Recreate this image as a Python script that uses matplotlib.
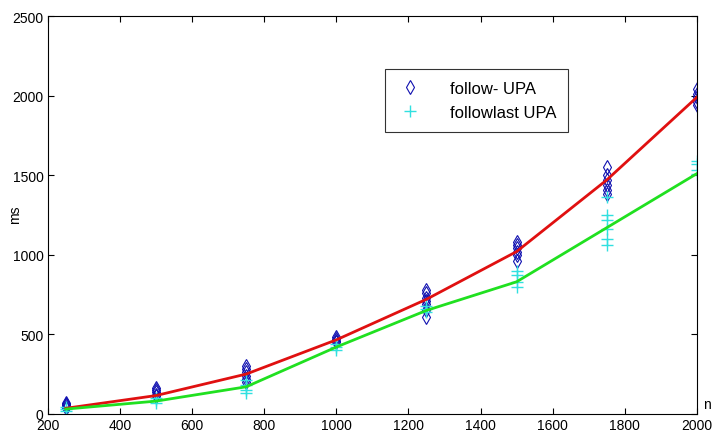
import numpy as np
import matplotlib
matplotlib.use("Agg")
import matplotlib.pyplot as plt

plt.rcParams["font.family"] = ["Liberation Sans", "DejaVu Sans"]

# measurement sizes
N_VALUES = [250, 500, 750, 1000, 1250, 1500, 1750, 2000]

# individual runs (ms) per size
follow_runs = [
    [35, 45, 55, 65, 70],
    [110, 120, 135, 150, 160],
    [200, 220, 240, 260, 280, 300],
    [450, 460, 470, 480],
    [610, 650, 690, 710, 730, 760, 780],
    [960, 1000, 1020, 1040, 1060, 1080],
    [1380, 1410, 1440, 1470, 1500, 1550],
    [1940, 1960, 1990, 2010, 2040],
]
followlast_runs = [
    [20, 30, 40],
    [70, 85, 100],
    [130, 150, 180, 210],
    [400, 420, 440],
    [640, 660, 680],
    [800, 830, 870, 900],
    [1060, 1100, 1160, 1220, 1250, 1360],
    [1510, 1530, 1570, 1590],
]

# average curves
follow_line = [35, 115, 250, 465, 720, 1020, 1470, 1990]
followlast_line = [30, 80, 170, 420, 650, 830, 1170, 1510]

X_TICKS = [200, 400, 600, 800, 1000, 1200, 1400, 1600, 1800, 2000]
Y_TICKS = [0, 500, 1000, 1500, 2000, 2500]

fig = plt.figure(figsize=(7.14, 4.39), dpi=100, facecolor="white")
ax = fig.add_axes([0.067, 0.055, 0.909, 0.906])

fx = np.concatenate([[n] * len(r) for n, r in zip(N_VALUES, follow_runs)])
fy = np.concatenate(follow_runs)
lx = np.concatenate([[n] * len(r) for n, r in zip(N_VALUES, followlast_runs)])
ly = np.concatenate(followlast_runs)

ax.plot(fx, fy, linestyle="none", marker="d", markersize=7,
        markerfacecolor="none", markeredgecolor="#1010b0", markeredgewidth=0.8,
        label="follow- UPA")
ax.plot(lx, ly, linestyle="none", marker="+", markersize=8,
        color="#30e0e0", markeredgewidth=1.0, label="followlast UPA")

ax.plot(N_VALUES, follow_line, color="#e01010", linewidth=2)
ax.plot(N_VALUES, followlast_line, color="#20e020", linewidth=2)

ax.set_xlim(200, 2000)
ax.set_ylim(0, 2500)
ax.set_xticks(X_TICKS)
ax.set_yticks(Y_TICKS)
ax.tick_params(direction="in", top=True, right=True, labelsize=10,
               length=4, width=0.8, pad=3)
for s in ax.spines.values():
    s.set_linewidth(0.8)

fig.text(0.021, 0.51, "ms", rotation=90, ha="center", va="center", fontsize=10)
fig.text(0.990, 0.077, "n", ha="center", va="center", fontsize=10)

leg = ax.legend(loc="upper left", bbox_to_anchor=(0.519, 0.866),
                fontsize=12, frameon=True, fancybox=False,
                edgecolor="black", borderpad=0.7, labelspacing=0.55,
                handlelength=1.6, handletextpad=1.6, borderaxespad=0)
leg.get_frame().set_linewidth(0.8)

plt.savefig("out.png", dpi=100, facecolor="white")
